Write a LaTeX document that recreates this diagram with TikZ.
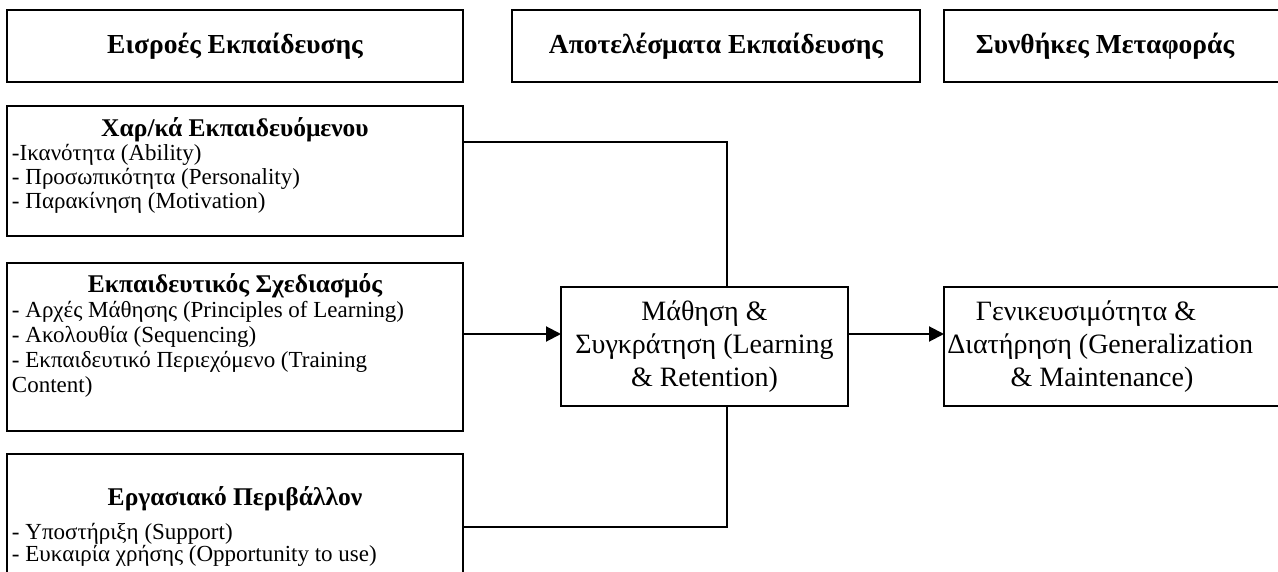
\documentclass[tikz,border=0pt]{standalone}
\usepackage{fontspec}
\setmainfont{Liberation Serif}
\usetikzlibrary{arrows.meta}

% type sizes used in the chart
\newcommand\headfont{\fontsize{27.5}{30}\selectfont\bfseries}
\newcommand\titlefont{\fontsize{25.5}{28}\selectfont\bfseries}
\newcommand\mainfont{\fontsize{28}{33}\selectfont}
\newcommand\itemlines[1]{\fontsize{23}{#1}\selectfont\raggedright\leftskip=5pt\relax}

\begin{document}
\begin{tikzpicture}[x=1pt,y=-1pt,
  frame/.style={draw, line width=2pt, inner sep=0pt, outer sep=0pt, fill=white},
  link/.style={line width=2pt},
  arr/.style={link, -{Triangle[length=15pt,width=15pt]}},
]
\useasboundingbox (0,0) rectangle (1278,572);
\clip (0,0) rectangle (1278,572);

% column headings
\node[frame, minimum width=456pt, minimum height=72pt, font=\headfont]
  (inputs) at (235,46) {Εισροές Εκπαίδευσης};
\node[frame, minimum width=408pt, minimum height=72pt, font=\headfont]
  (outcomes) at (716,46) {Αποτελέσματα Εκπαίδευσης};
\node[frame, minimum height=72pt, font=\headfont]
  (conditions) at (1117,46)
  {\begin{minipage}{346pt}\leftskip=0pt plus 1fil\rightskip=24pt plus 1fil
   \parfillskip=0pt Συνθήκες Μεταφοράς\end{minipage}};

% training inputs
\node[frame, anchor=north west] (trainee) at (7,106)
  {\begin{minipage}[c][130pt][t]{456pt}
   {\centering\titlefont\rule{0pt}{31pt}Χαρ/κά Εκπαιδευόμενου\par}
   \itemlines{24}
   -Ικανότητα (Ability)\\
   - Προσωπικότητα (Personality)\\
   - Παρακίνηση (Motivation)\par
   \end{minipage}};

\node[frame, anchor=north west] (design) at (7,263)
  {\begin{minipage}[c][168pt][t]{456pt}
   {\centering\titlefont\rule{0pt}{29pt}Εκπαιδευτικός Σχεδιασμός\par}
   \itemlines{25}
   - Αρχές Μάθησης (Principles of Learning)\\
   - Ακολουθία (Sequencing)\\
   - Εκπαιδευτικό Περιεχόμενο (Training\\
   Content)\par
   \end{minipage}};

\node[frame, anchor=north west] (work) at (7,454)
  {\begin{minipage}[c][150pt][t]{456pt}
   {\centering\titlefont\rule{0pt}{51pt}Εργασιακό Περιβάλλον\par}
   \vspace{12pt}
   \itemlines{22}
   - Υποστήριξη (Support)\\
   - Ευκαιρία χρήσης (Opportunity to use)\par
   \end{minipage}};

% outcome and transfer
\node[frame, minimum width=287pt, minimum height=119pt, align=center, font=\mainfont]
  (learn) at (704.5,346.5) {Μάθηση \&\\Συγκράτηση (Learning\\\& Retention)};

\node[frame, minimum height=119pt, font=\mainfont]
  (transfer) at (1117,346.5)
  {\begin{minipage}{346pt}\leftskip=0pt plus 1fil\rightskip=30pt plus 1fil
   \parfillskip=0pt Γενικευσιμότητα \&\\Διατήρηση (Generalization\\\& Maintenance)\end{minipage}};

% connectors
\coordinate (topjoin) at (727,142);
\coordinate (lowjoin) at (727,527);
\coordinate (arrowrow) at (0,334);

\draw[link] (trainee.east |- topjoin) -- (topjoin) -- (learn.north -| topjoin);
\draw[link] (work.east |- lowjoin) -- (lowjoin) -- (learn.south -| lowjoin);
\draw[arr] (design.east |- arrowrow) -- (learn.west |- arrowrow);
\draw[arr] (learn.east |- arrowrow) -- (transfer.west |- arrowrow);
\end{tikzpicture}
\end{document}
